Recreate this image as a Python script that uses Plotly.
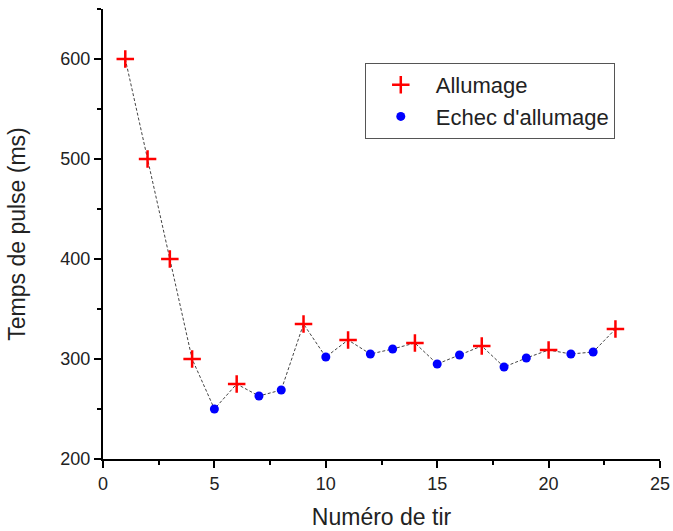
import plotly.graph_objects as go

# numéro de tir / temps de pulse (ms)
tirs = list(range(1, 24))
temps = [600, 500, 400, 300, 250, 275, 263, 269, 335, 302, 319, 305, 310,
         316, 295, 304, 313, 292, 301, 309, 305, 307, 330]
allumage = [1, 2, 3, 4, 6, 9, 11, 14, 17, 20, 23]

x_ok = [t for t in tirs if t in allumage]
y_ok = [v for t, v in zip(tirs, temps) if t in allumage]
x_fail = [t for t in tirs if t not in allumage]
y_fail = [v for t, v in zip(tirs, temps) if t not in allumage]

fig = go.Figure()

fig.add_trace(go.Scatter(
    x=tirs, y=temps, mode='lines',
    line=dict(color='#444444', width=1, dash='3px,2px'),
    showlegend=False, hoverinfo='skip'
))

fig.add_trace(go.Scatter(
    x=x_ok, y=y_ok, mode='markers', name='Allumage',
    marker=dict(symbol='cross-thin', size=12.5, color='red',
                line=dict(color='red', width=2.5))
))

fig.add_trace(go.Scatter(
    x=x_fail, y=y_fail, mode='markers', name="Echec d'allumage",
    marker=dict(symbol='circle', size=9, color='blue')
))

axis_common = dict(
    showgrid=False, zeroline=False, showline=True, linecolor='black', linewidth=2,
    ticks='outside', ticklen=7, tickwidth=2, tickcolor='black',
    tickfont=dict(size=18, color='#222'), automargin=False,
)

fig.update_xaxes(
    range=[0, 25], dtick=5,
    title=dict(text='Numéro de tir', font=dict(size=23, color='#222'), standoff=16),
    minor=dict(dtick=2.5, ticks='outside', ticklen=4, tickwidth=2, tickcolor='black'),
    **axis_common
)
fig.update_yaxes(
    range=[200, 650], tickvals=[200, 300, 400, 500, 600],
    title=dict(text='Temps de pulse (ms)', font=dict(size=23, color='#222'), standoff=28),
    minor=dict(tickvals=[250, 350, 450, 550, 650], ticks='outside', ticklen=4, tickwidth=2, tickcolor='black'),
    **axis_common
)

fig.update_layout(
    width=673, height=531,
    margin=dict(l=103, r=13, t=9, b=72),
    plot_bgcolor='white', paper_bgcolor='white',
    font=dict(family='Liberation Sans, Arial, sans-serif', color='#222'),
    legend=dict(
        x=0.47, y=0.88, xanchor='left', yanchor='top',
        bordercolor='#555', borderwidth=1, bgcolor='white',
        font=dict(size=22), itemwidth=60, tracegroupgap=0,
    ),
)

# page body has a default 8px margin, drop it so the figure fills the window
fig.write_html(
    "out.html",
    config={'displayModeBar': False},
    post_script="document.body.style.margin='0';document.body.style.overflow='hidden';",
)
